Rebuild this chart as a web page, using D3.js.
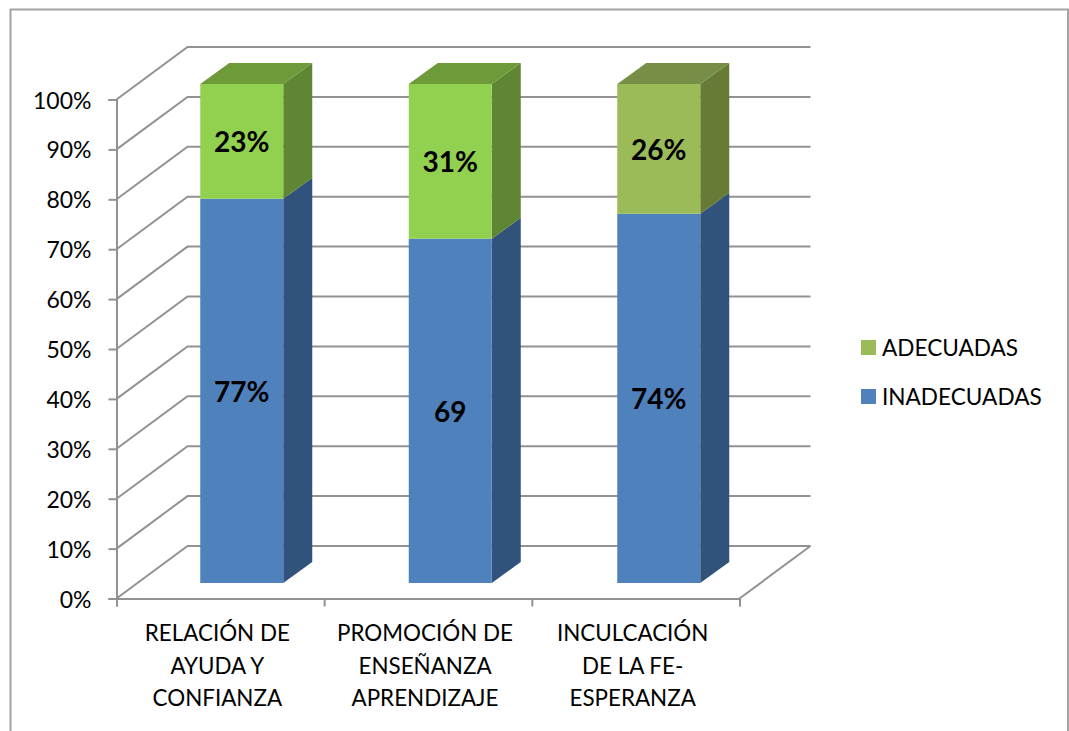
<!DOCTYPE html>
<html lang="es">
<head>
<meta charset="UTF-8">
<title>Relación de ayuda</title>
<script src="https://d3js.org/d3.v7.min.js"></script>
<style>
  html, body { margin: 0; padding: 0; background: #fff; }
  svg { display: block; }
  text { font-family: Lato, "Open Sans", sans-serif; fill: #000; }
</style>
</head>
<body>
<div id="chart"></div>
<script>
// values
var categories = ["RELACIÓN DE AYUDA Y CONFIANZA", "PROMOCIÓN DE ENSEÑANZA APRENDIZAJE", "INCULCACIÓN DE LA FE-ESPERANZA"];
var categoryLines = [
    ["RELACIÓN DE", "AYUDA Y", "CONFIANZA"],
    ["PROMOCIÓN DE", "ENSEÑANZA", "APRENDIZAJE"],
    ["INCULCACIÓN", "DE LA FE-", "ESPERANZA"]
];
var inadecuadas = [77, 69, 74];
var adecuadas = [23, 31, 26];
var inadecuadasLabels = ["77%", "69", "74%"];
var adecuadasLabels = ["23%", "31%", "26%"];
var legendNames = ["ADECUADAS", "INADECUADAS"];
var yTicks = [0, 10, 20, 30, 40, 50, 60, 70, 80, 90, 100];

var width = 1069, height = 731;
var x0 = 116.5, x1 = 739.5, yBottom = 598.5, yTop = 99.5;
var wallDx = 71, wallDy = -52.5;    // depth of the back wall
var barDx = 21, barDy = -15.5;      // front of the bars, relative to the axis plane
var sideDx = 29, sideDy = -21;      // depth of a bar
var barW = 83;
var barStretch = 2.5;               // bars sit on a slightly wider step than the axis ticks
var gridColor = "#929292";

var blue = {front: "#4f81bd", side: "#31527a"};
var greens = [
    {front: "#92d050", top: "#6f9a3a", side: "#5f8632"},
    {front: "#92d050", top: "#6f9a3a", side: "#5f8632"},
    {front: "#9bbb59", top: "#768e45", side: "#677b37"}
];

var svg = d3.select("#chart").append("svg")
    .attr("width", width)
    .attr("height", height);

// outer frame, bottom edge is cut off in the original
svg.append("path")
    .attr("d", d3.line()([[10.5, height], [10.5, 9.5], [1068, 9.5], [1068, height]]))
    .attr("fill", "none")
    .attr("stroke", "#a3a3a3")
    .attr("stroke-width", 2);

var y = d3.scaleLinear().domain([0, 100]).range([yBottom, yTop]);
var x = d3.scaleBand().domain(categories).range([x0, x1]);
var xBars = d3.scaleBand().domain(categories).range([x0, x1 + barStretch]);
var xEdges = d3.scaleLinear().domain([0, categories.length]).range([x0, x1]);

// wall grid lines
var grid = svg.append("g")
    .attr("fill", "none")
    .attr("stroke", gridColor)
    .attr("stroke-width", 2);

grid.selectAll("path.wall")
    .data(yTicks)
    .enter()
    .append("path")
    .attr("class", "wall")
    .attr("d", function(d) {
        return d3.line()([
            [x0, y(d)],
            [x0 + wallDx, y(d) + wallDy],
            [x1 + wallDx, y(d) + wallDy]
        ]);
    });

// right edge of the floor
grid.append("path")
    .attr("d", d3.line()([[x1, y(0)], [x1 + wallDx, y(0) + wallDy]]));

// axes
var yAxis = svg.append("g")
    .attr("transform", "translate(" + x0 + ",0)")
    .call(d3.axisLeft(y).tickValues(yTicks).tickSize(8).tickPadding(17).tickFormat(function(d) { return d + "%"; }));

var xAxis = svg.append("g")
    .attr("transform", "translate(0," + yBottom + ")")
    .call(d3.axisBottom(xEdges).ticks(categories.length).tickSize(8).tickFormat(""));

svg.selectAll(".domain, .tick line")
    .attr("stroke", gridColor)
    .attr("stroke-width", 2);

yAxis.selectAll("text")
    .style("font-size", "23px")
    .attr("dy", "0.37em");

// bars
var bars = svg.selectAll("g.bar")
    .data(categories)
    .enter()
    .append("g")
    .attr("class", "bar");

function bx(i) {
    return xBars(categories[i]) + xBars.bandwidth() / 2 + barDx - barW / 2;
}
function by(v) {
    return y(v) + barDy;
}
function sidePath(i, v0, v1) {
    var r = bx(i) + barW;
    return d3.line()([
        [r, by(v0)], [r + sideDx, by(v0) + sideDy],
        [r + sideDx, by(v1) + sideDy], [r, by(v1)]
    ]) + "Z";
}
function topPath(i, v) {
    var l = bx(i);
    return d3.line()([
        [l, by(v)], [l + sideDx, by(v) + sideDy],
        [l + barW + sideDx, by(v) + sideDy], [l + barW, by(v)]
    ]) + "Z";
}

bars.each(function(c, i) {
    var g = d3.select(this);
    var low = inadecuadas[i], total = inadecuadas[i] + adecuadas[i];

    g.append("path").attr("d", sidePath(i, 0, low)).attr("fill", blue.side);
    g.append("path").attr("d", sidePath(i, low, total)).attr("fill", greens[i].side);
    g.append("path").attr("d", topPath(i, total)).attr("fill", greens[i].top);

    g.append("rect")
        .attr("x", bx(i)).attr("width", barW)
        .attr("y", by(low)).attr("height", by(0) - by(low))
        .attr("fill", blue.front);
    g.append("rect")
        .attr("x", bx(i)).attr("width", barW)
        .attr("y", by(total)).attr("height", by(low) - by(total))
        .attr("fill", greens[i].front);

    // data labels, centred on each segment
    g.selectAll("text")
        .data([
            [inadecuadasLabels[i], low / 2],
            [adecuadasLabels[i], low + adecuadas[i] / 2]
        ])
        .enter()
        .append("text")
        .attr("x", bx(i) + barW / 2)
        .attr("y", function(d) { return by(d[1]); })
        .attr("dy", "0.39em")
        .attr("text-anchor", "middle")
        .style("font-size", "28px")
        .style("font-weight", "bold")
        .text(function(d) { return d[0]; });
});

// category labels
var catLabels = svg.selectAll("text.cat")
    .data(categoryLines)
    .enter()
    .append("text")
    .attr("class", "cat")
    .attr("text-anchor", "middle")
    .style("font-size", "22.4px");

catLabels.selectAll("tspan")
    .data(function(d, i) {
        return d.map(function(t) { return {t: t, i: i}; });
    })
    .enter()
    .append("tspan")
    .attr("x", function(d) { return x(categories[d.i]) + x.bandwidth() / 2 - 3; })
    .attr("y", function(d, j) { return 641 + j * 32.5; })
    .text(function(d) { return d.t; });

// legend
var legendY = d3.scalePoint().domain(legendNames).range([347.5, 396.5]);
var legendColors = d3.scaleOrdinal().domain(legendNames).range(["#9bbb59", "#4f81bd"]);

var legend = svg.selectAll("g.legend")
    .data(legendNames)
    .enter()
    .append("g")
    .attr("class", "legend")
    .attr("transform", function(d) { return "translate(861," + legendY(d) + ")"; });

legend.append("rect")
    .attr("y", -7.5)
    .attr("width", 15)
    .attr("height", 15)
    .attr("fill", function(d) { return legendColors(d); });

legend.append("text")
    .attr("x", 21)
    .attr("dy", "0.36em")
    .style("font-size", "22.6px")
    .text(function(d) { return d; });
</script>
</body>
</html>
